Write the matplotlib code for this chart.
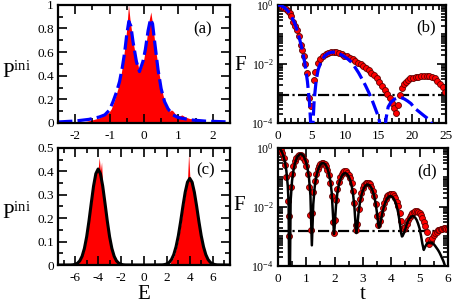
import matplotlib
matplotlib.use("Agg")
import matplotlib.pyplot as plt
from matplotlib.ticker import (MultipleLocator, FixedLocator, FuncFormatter,
                               LogFormatterSciNotation, NullFormatter)

plt.rcParams.update({
    "font.family": "Liberation Serif",
    "mathtext.fontset": "custom",
    "mathtext.rm": "Liberation Serif",
    "mathtext.it": "Liberation Serif:italic",
    "axes.unicode_minus": False,
    "axes.linewidth": 1.6,
})

RED = "#ff0000"
BLUE = "#0000ff"

# ---- panel (a): histogram of initial state + fit
Ea_hist = [-2.00, -1.95, -1.90, -1.85, -1.80, -1.75, -1.70, -1.65, -1.60, -1.55,
           -1.50, -1.45, -1.40, -1.35, -1.30, -1.25, -1.20, -1.15, -1.10, -1.05,
           -1.00, -0.95, -0.90, -0.85, -0.80, -0.75, -0.70, -0.65, -0.60, -0.55,
           -0.50, -0.45, -0.40, -0.35, -0.30, -0.25, -0.20, -0.15, -0.10, -0.05,
           0.00, 0.05, 0.10, 0.15, 0.20, 0.25, 0.30, 0.35, 0.40, 0.45,
           0.50, 0.55, 0.60, 0.65, 0.70, 0.75, 0.80, 0.85, 0.90, 0.95,
           1.00, 1.05, 1.10, 1.15, 1.20, 1.25, 1.30, 1.35, 1.40, 1.45,
           1.50, 1.55, 1.60, 1.65, 1.70, 1.75, 1.80, 1.85, 1.90, 1.95, 2.00]
Pa_hist = [0.003, 0.004, 0.005, 0.007, 0.009, 0.011, 0.013, 0.016, 0.019, 0.022,
           0.026, 0.030, 0.034, 0.038, 0.043, 0.050, 0.057, 0.065, 0.075, 0.085,
           0.098, 0.120, 0.160, 0.200, 0.250, 0.300, 0.360, 0.440, 0.540, 0.660,
           0.800, 1.000, 0.860, 0.760, 0.660, 0.580, 0.520, 0.460, 0.450, 0.490,
           0.550, 0.640, 0.760, 0.870, 0.940, 0.840, 0.720, 0.600, 0.500, 0.400,
           0.310, 0.240, 0.190, 0.150, 0.120, 0.100, 0.110, 0.100, 0.080, 0.070,
           0.065, 0.060, 0.068, 0.060, 0.050, 0.045, 0.040, 0.036, 0.038, 0.030,
           0.027, 0.025, 0.020, 0.017, 0.014, 0.011, 0.009, 0.007, 0.005, 0.004, 0.003]
Ea_fit = [-2.5, -2.0, -1.6, -1.3, -1.14, -1.0, -0.9, -0.8, -0.71, -0.63, -0.56,
          -0.5, -0.44, -0.38, -0.32, -0.22, -0.13, -0.03, 0.04, 0.12, 0.19, 0.25,
          0.31, 0.41, 0.5, 0.6, 0.7, 0.84, 1.0, 1.38, 1.8, 2.5]
Pa_fit = [0.008, 0.016, 0.03, 0.05, 0.068, 0.11, 0.18, 0.26, 0.35, 0.47, 0.6,
          0.75, 0.86, 0.82, 0.69, 0.52, 0.435, 0.52, 0.62, 0.78, 0.88, 0.84,
          0.69, 0.45, 0.29, 0.18, 0.12, 0.068, 0.045, 0.025, 0.015, 0.008]

# ---- panel (b): fidelity vs time, circles = numerics, dashed = fit
tb_num = [0.0, 0.3, 0.6, 0.9, 1.2, 1.5, 1.8, 2.0, 2.3, 2.55,
          2.8, 3.1, 3.4, 3.65, 3.9, 4.1, 4.3, 4.6, 4.95, 5.35,
          5.55, 5.9, 6.3, 6.7, 7.1, 7.5, 7.9, 8.3, 8.7, 9.1,
          9.5, 9.9, 10.3, 10.7, 11.1, 11.5, 11.9, 12.3, 12.7, 13.1,
          13.5, 13.9, 14.3, 14.7, 15.1, 15.5, 15.9, 16.25, 16.6, 16.9,
          17.2, 17.5, 17.85, 18.1, 18.4, 18.7, 19.0, 19.3, 19.7, 20.1,
          20.5, 20.9, 21.3, 21.7, 22.1, 22.5, 22.9, 23.3, 23.7, 24.1,
          24.5, 24.85]
Fb_num = [1.0, 0.95, 0.88, 0.8, 0.7, 0.6, 0.52, 0.42, 0.27, 0.19,
          0.14, 0.085, 0.044, 0.03, 0.018, 0.01, 0.005, 7e-4, 3.6e-4, 2.9e-3,
          5.5e-3, 0.0105, 0.015, 0.018, 0.021, 0.023, 0.025, 0.025, 0.025, 0.023,
          0.021, 0.019, 0.018, 0.016, 0.0145, 0.013, 0.011, 0.0097, 0.0085, 0.0072,
          0.006, 0.005, 0.0041, 0.0033, 0.0024, 0.0018, 0.0013, 9.5e-4, 7e-4, 4.8e-4,
          3.2e-4, 2.1e-4, 4e-4, 8.9e-4, 1.5e-3, 2.1e-3, 2.5e-3, 2.9e-3, 3.2e-3, 3.4e-3,
          3.6e-3, 3.7e-3, 3.8e-3, 3.85e-3, 3.9e-3, 3.8e-3, 3.6e-3, 3.2e-3, 2.7e-3, 2.1e-3,
          1.6e-3, 1.15e-3]
tb_fit = [0, 0.5, 1.0, 1.5, 2.0, 2.5, 3.0, 3.5, 4.0, 4.4,
          4.7, 4.9, 5.05, 5.2, 5.4, 5.7, 6.0, 6.5, 7.0, 7.5,
          8.0, 8.5, 9.0, 9.5, 10.0, 10.5, 11.0, 11.5, 12.0, 12.5,
          13.0, 13.5, 14.0, 14.5, 15.0, 15.3, 15.55, 15.8, 16.1, 16.4,
          16.8, 17.3, 17.8, 18.3, 18.8, 19.3, 19.8, 20.3, 20.8, 21.3,
          21.8, 22.3, 22.8, 23.3, 23.8, 24.3, 24.8]
Fb_fit = [1.0, 0.94, 0.8, 0.62, 0.42, 0.24, 0.11, 0.04, 0.011, 0.0025,
          5e-4, 8e-5, 1e-7, 8e-5, 6e-4, 2.8e-3, 6.5e-3, 0.013, 0.019, 0.023,
          0.025, 0.025, 0.023, 0.02, 0.017, 0.014, 0.011, 0.0075, 0.005, 0.0031,
          0.0019, 0.0011, 6e-4, 3e-4, 1.5e-4, 6e-5, 1e-7, 3e-5, 1.5e-4, 3.5e-4,
          5e-4, 6.3e-4, 7e-4, 7.2e-4, 6.5e-4, 5.5e-4, 4.5e-4, 3.2e-4, 2.6e-4, 2.1e-4,
          1.7e-4, 1.4e-4, 1.0e-4, 6e-5, 3e-5, 1e-5, 3e-6]
Fb_level = 8.5e-4

# ---- panel (c): two-band histogram + gaussian fit
Ec_left = [-6.0, -5.9, -5.8, -5.7, -5.6, -5.5, -5.4, -5.3, -5.2, -5.1,
           -5.0, -4.9, -4.8, -4.7, -4.6, -4.5, -4.4, -4.3, -4.2, -4.1,
           -4.0, -3.9, -3.8, -3.7, -3.6, -3.5, -3.4, -3.3, -3.2, -3.1,
           -3.0, -2.9, -2.8, -2.7, -2.6, -2.5, -2.4, -2.3]
Pc_left = [0.005, 0.007, 0.010, 0.014, 0.020, 0.027, 0.037, 0.050, 0.068, 0.090,
           0.115, 0.145, 0.180, 0.220, 0.255, 0.295, 0.330, 0.360, 0.385, 0.400,
           0.410, 0.460, 0.400, 0.440, 0.330, 0.290, 0.250, 0.210, 0.175, 0.140,
           0.110, 0.085, 0.062, 0.045, 0.032, 0.021, 0.013, 0.008]
Ec_right = [2.3, 2.4, 2.5, 2.6, 2.7, 2.8, 2.9, 3.0, 3.1, 3.2,
            3.3, 3.4, 3.5, 3.6, 3.7, 3.8, 3.9, 4.0, 4.1, 4.2,
            4.3, 4.4, 4.5, 4.6, 4.7, 4.8, 4.9, 5.0, 5.1, 5.2,
            5.3, 5.4, 5.5, 5.6, 5.7, 5.8, 5.9]
Pc_right = [0.012, 0.018, 0.026, 0.036, 0.050, 0.068, 0.088, 0.112, 0.140, 0.170,
            0.205, 0.240, 0.270, 0.300, 0.330, 0.360, 0.480, 0.380, 0.360, 0.360,
            0.350, 0.300, 0.270, 0.240, 0.205, 0.170, 0.140, 0.110, 0.085, 0.065,
            0.048, 0.034, 0.024, 0.016, 0.010, 0.006, 0.003]
Ec_fit = [-7.5,
          -6.4, -6.2, -6.0, -5.8, -5.6, -5.4, -5.2, -5.0, -4.8, -4.6, -4.4, -4.2, -4.0,
          -3.8, -3.6, -3.4, -3.2, -3.0, -2.8, -2.6, -2.4, -2.2, -2.0, -1.8, -1.6,
          0.0,
          1.6, 1.8, 2.0, 2.2, 2.4, 2.6, 2.8, 3.0, 3.2, 3.4, 3.6, 3.8, 4.0,
          4.2, 4.4, 4.6, 4.8, 5.0, 5.2, 5.4, 5.6, 5.8, 6.0, 6.2, 6.4,
          7.5]
Pc_fit = [0.0,
          0.0003, 0.0011, 0.0031, 0.0079, 0.018, 0.0375, 0.0707, 0.121, 0.188, 0.264, 0.337, 0.390, 0.41,
          0.390, 0.337, 0.264, 0.188, 0.121, 0.0707, 0.0375, 0.018, 0.0079, 0.0031, 0.0011, 0.0003,
          0.0,
          0.0007, 0.002, 0.0049, 0.0111, 0.0232, 0.0445, 0.078, 0.125, 0.185, 0.251, 0.311, 0.354, 0.37,
          0.354, 0.311, 0.251, 0.185, 0.125, 0.078, 0.0445, 0.0232, 0.0111, 0.0049, 0.002, 0.0007,
          0.0]

# ---- panel (d): fidelity vs time, circles = numerics, solid = theory
td_num = [0.00, 0.05, 0.10, 0.15, 0.20, 0.25, 0.30, 0.35, 0.38,
          0.40, 0.45, 0.50, 0.55, 0.60, 0.65, 0.70, 0.75, 0.80, 0.85, 0.90, 0.95, 1.00, 1.05, 1.10, 1.15, 1.17,
          1.20, 1.25, 1.30, 1.35, 1.40, 1.45, 1.50, 1.55, 1.60, 1.65, 1.70, 1.75, 1.80, 1.85, 1.90, 1.95, 1.97,
          2.00, 2.05, 2.10, 2.15, 2.20, 2.25, 2.30, 2.35, 2.40, 2.45, 2.50, 2.55, 2.60, 2.65, 2.70, 2.75, 2.77,
          2.80, 2.85, 2.90, 2.95, 3.00, 3.05, 3.10, 3.15, 3.20, 3.25, 3.30, 3.35, 3.40, 3.45, 3.50, 3.55,
          3.60, 3.65, 3.70, 3.75, 3.80, 3.85, 3.90, 3.95, 4.00, 4.05, 4.10, 4.15, 4.20, 4.25, 4.30, 4.35, 4.40,
          4.45, 4.50, 4.55, 4.60, 4.65, 4.70, 4.75, 4.80, 4.85, 4.90, 4.95, 5.00, 5.05, 5.10, 5.15, 5.20,
          5.25, 5.30, 5.35,
          5.40, 5.45, 5.50, 5.55, 5.60, 5.65, 5.70, 5.75, 5.80, 5.85, 5.90, 5.95, 6.00]
Fd_num = [1.0, 0.958, 0.839, 0.663, 0.458, 0.262, 0.105, 0.016, 0.001,
          0.0048, 0.046, 0.127, 0.236, 0.354, 0.464, 0.549, 0.595, 0.595, 0.549, 0.464, 0.354, 0.236, 0.127, 0.047, 0.0055, 0.0017,
          0.006, 0.031, 0.074, 0.131, 0.191, 0.246, 0.287, 0.308, 0.306, 0.281, 0.236, 0.179, 0.119, 0.064, 0.024, 0.0032, 0.0013,
          0.0037, 0.0168, 0.0397, 0.069, 0.100, 0.129, 0.150, 0.161, 0.160, 0.146, 0.123, 0.094, 0.063, 0.0345, 0.0133, 0.0025, 0.0017,
          0.0026, 0.0083, 0.018, 0.0306, 0.0435, 0.055, 0.063, 0.067, 0.065, 0.059, 0.048, 0.036, 0.023, 0.0125, 0.0051, 0.0025,
          0.0033, 0.0057, 0.0093, 0.0138, 0.0183, 0.0226, 0.0258, 0.0278, 0.028, 0.0267, 0.0238, 0.0198, 0.0151, 0.0105, 0.0064, 0.0034, 0.0019,
          0.0018, 0.0021, 0.0027, 0.0035, 0.0045, 0.0053, 0.0062, 0.0068, 0.0071, 0.0071, 0.0068, 0.0061, 0.0053, 0.0042, 0.0031, 0.0022,
          0.0014, 0.00077, 0.00056,
          0.0007, 0.0009, 0.0011, 0.0013, 0.00145, 0.0016, 0.0017, 0.0018, 0.00185, 0.0019, 0.0019, 0.00185, 0.0018]
td_fit = [0.00, 0.05, 0.10, 0.15, 0.20, 0.25, 0.30, 0.35, 0.38, 0.41,
          0.45, 0.50, 0.55, 0.60, 0.65, 0.70, 0.75, 0.80, 0.85, 0.90, 0.95, 1.00, 1.05, 1.10, 1.15, 1.20,
          1.25, 1.30, 1.35, 1.40, 1.45, 1.50, 1.55, 1.60, 1.65, 1.70, 1.75, 1.80, 1.85, 1.90, 1.95, 1.98,
          2.00, 2.05, 2.10, 2.15, 2.20, 2.25, 2.30, 2.35, 2.40, 2.45, 2.50, 2.55, 2.60, 2.65, 2.70, 2.75, 2.77,
          2.80, 2.85, 2.90, 2.95, 3.00, 3.05, 3.10, 3.15, 3.20, 3.25, 3.30, 3.35, 3.40, 3.45, 3.50, 3.55, 3.57,
          3.60, 3.65, 3.70, 3.75, 3.80, 3.85, 3.90, 3.95, 4.00, 4.05, 4.10, 4.15, 4.20, 4.25, 4.30, 4.35, 4.38,
          4.40, 4.45, 4.50, 4.55, 4.60, 4.65, 4.70, 4.75, 4.80, 4.85, 4.90, 4.95, 5.00, 5.05, 5.10, 5.15,
          5.20, 5.25, 5.30, 5.35, 5.40, 5.45, 5.50, 5.55, 5.60, 5.65, 5.70, 5.75, 5.80, 5.85, 5.90, 5.95, 6.00]
Fd_fit = [1.0, 0.964, 0.860, 0.705, 0.519, 0.332, 0.168, 0.0517, 0.0132, 1e-6,
          0.0156, 0.0761, 0.173, 0.292, 0.413, 0.518, 0.591, 0.620, 0.600, 0.535, 0.436, 0.316, 0.196, 0.094, 0.0242, 0.0005,
          0.0124, 0.0476, 0.100, 0.161, 0.222, 0.271, 0.302, 0.309, 0.292, 0.253, 0.198, 0.136, 0.0775, 0.0314, 0.0045, 0.0012,
          0.0019, 0.0106, 0.0295, 0.0548, 0.0825, 0.108, 0.128, 0.1386, 0.1386, 0.128, 0.108, 0.0825, 0.0548, 0.0295, 0.0106, 0.002, 0.0013,
          0.0021, 0.0067, 0.0148, 0.025, 0.036, 0.046, 0.0535, 0.0573, 0.0569, 0.0524, 0.0444, 0.0342, 0.0234, 0.0134, 0.0061, 0.0024, 0.002,
          0.0023, 0.0041, 0.007, 0.0109, 0.015, 0.0188, 0.0217, 0.0233, 0.0232, 0.0215, 0.0184, 0.0145, 0.0102, 0.0062, 0.0031, 0.0013, 0.001,
          0.00103, 0.0013, 0.0018, 0.0026, 0.0034, 0.0041, 0.0046, 0.0049, 0.0048, 0.0043, 0.0036, 0.0027, 0.0019, 0.0011, 0.00057, 0.00035,
          0.00045, 0.00055, 0.0006, 0.00062, 0.00062, 0.0006, 0.00055, 0.00048, 0.00041, 0.00035, 0.00029, 0.00023, 0.00018, 0.00014, 0.0001, 3e-5, 1e-6]
Fd_level = 1.5e-3

LOG_MINOR = [k * 10.0 ** d for d in (-4, -3, -2, -1) for k in range(1, 10)
             if not (k == 1 and d in (-4, -2))]
plain = FuncFormatter(lambda v, p: "%g" % v)


def ticks(ax):
    ax.tick_params(which="both", direction="in", top=True, right=True,
                   width=1.2, labelsize=9.5)
    ax.tick_params(which="major", length=6.5)
    ax.tick_params(which="minor", length=3.5)
    ax.tick_params(axis="x", pad=5)
    ax.tick_params(axis="y", pad=3)


def logy(ax):
    ax.set_yscale("log")
    ax.set_ylim(1e-4, 1)
    ax.yaxis.set_major_locator(FixedLocator([1e-4, 1e-2, 1]))
    ax.yaxis.set_minor_locator(FixedLocator(LOG_MINOR))
    ax.yaxis.set_major_formatter(LogFormatterSciNotation())
    ax.yaxis.set_minor_formatter(NullFormatter())


fig = plt.figure(figsize=(4.57, 3.05), dpi=100)
ax_a = fig.add_axes([0.127, 0.597, 0.376, 0.387])
ax_b = fig.add_axes([0.608, 0.597, 0.368, 0.387])
ax_c = fig.add_axes([0.127, 0.131, 0.376, 0.384])
ax_d = fig.add_axes([0.608, 0.128, 0.372, 0.387])

# (a)
ax_a.fill_between(Ea_hist, 0, Pa_hist, color=RED, lw=0)
ax_a.plot(Ea_fit, Pa_fit, color=BLUE, lw=2.3, ls=(0, (4.5, 1.6)))
ax_a.set_xlim(-2.5, 2.5)
ax_a.set_ylim(0, 1)
ax_a.xaxis.set_major_locator(MultipleLocator(1))
ax_a.xaxis.set_minor_locator(MultipleLocator(0.5))
ax_a.yaxis.set_major_locator(MultipleLocator(0.2))
ax_a.yaxis.set_minor_locator(MultipleLocator(0.1))
ax_a.xaxis.set_major_formatter(plain)
ax_a.yaxis.set_major_formatter(plain)

# (b)
ax_b.axhline(Fb_level, color="black", lw=1.6, ls=(0, (5, 1.5, 1, 1.5)), zorder=1)
ax_b.plot(tb_num, Fb_num, ls="none", marker="o", ms=4.3, mfc=RED,
          mec="#600000", mew=0.6, zorder=2)
ax_b.plot(tb_fit, Fb_fit, color=BLUE, lw=2.3, ls=(0, (4.5, 1.6)), zorder=3)
ax_b.set_xlim(0, 25)
ax_b.xaxis.set_major_locator(MultipleLocator(5))
ax_b.xaxis.set_minor_locator(MultipleLocator(1))
logy(ax_b)

# (c)
ax_c.fill_between(Ec_left, 0, Pc_left, color=RED, lw=0)
ax_c.fill_between(Ec_right, 0, Pc_right, color=RED, lw=0)
ax_c.plot(Ec_fit, Pc_fit, color="black", lw=2.2)
ax_c.set_xlim(-7.5, 7.5)
ax_c.set_ylim(0, 0.5)
ax_c.xaxis.set_major_locator(MultipleLocator(2))
ax_c.xaxis.set_minor_locator(MultipleLocator(1))
ax_c.yaxis.set_major_locator(MultipleLocator(0.1))
ax_c.yaxis.set_minor_locator(MultipleLocator(0.05))
ax_c.xaxis.set_major_formatter(plain)
ax_c.yaxis.set_major_formatter(plain)

# (d)
ax_d.axhline(Fd_level, color="black", lw=1.6, ls=(0, (5, 1.5, 1, 1.5)), zorder=1)
ax_d.plot(td_num, Fd_num, ls="none", marker="o", ms=4.3, mfc=RED,
          mec="#600000", mew=0.6, zorder=2)
ax_d.plot(td_fit, Fd_fit, color="black", lw=1.8, zorder=3)
ax_d.set_xlim(0, 6)
ax_d.xaxis.set_major_locator(MultipleLocator(1))
ax_d.xaxis.set_minor_locator(MultipleLocator(0.5))
logy(ax_d)

for ax in (ax_a, ax_b, ax_c, ax_d):
    ticks(ax)
for ax in (ax_b, ax_d):
    ax.tick_params(axis="y", labelsize=8.5)

LBL = 15
ax_a.set_ylabel(r"P$^{\rm ini}$", fontsize=LBL, rotation=0, ha="center", va="center")
ax_a.yaxis.set_label_coords(-0.245, 0.43)
ax_c.set_ylabel(r"P$^{\rm ini}$", fontsize=LBL, rotation=0, ha="center", va="center")
ax_c.yaxis.set_label_coords(-0.245, 0.44)
ax_b.set_ylabel("F", fontsize=LBL, rotation=0, ha="center", va="center")
ax_b.yaxis.set_label_coords(-0.225, 0.49)
ax_d.set_ylabel("F", fontsize=LBL, rotation=0, ha="center", va="center")
ax_d.yaxis.set_label_coords(-0.225, 0.515)
ax_c.set_xlabel("E", fontsize=LBL, va="center")
ax_c.xaxis.set_label_coords(0.5, -0.25)
ax_d.set_xlabel("t", fontsize=LBL, va="center")
ax_d.xaxis.set_label_coords(0.5, -0.24)

for ax, s, x, y in ((ax_a, "(a)", 0.843, 0.79), (ax_b, "(b)", 0.88, 0.81),
                    (ax_c, "(c)", 0.86, 0.81), (ax_d, "(d)", 0.88, 0.805)):
    ax.text(x, y, s, transform=ax.transAxes, fontsize=12, ha="center", va="center")

fig.savefig("out.png", dpi=100, facecolor="white")
